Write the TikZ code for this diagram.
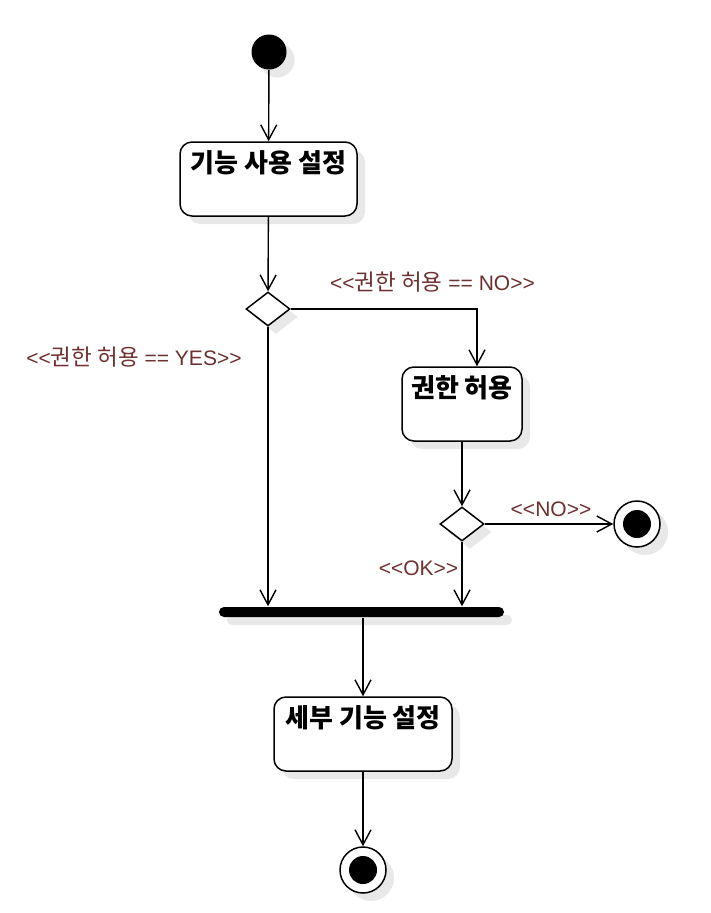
\documentclass[tikz,border=0pt]{standalone}
\usepackage{fontspec}
\setmainfont{Liberation Sans}
\newfontfamily\lat{Liberation Sans}
\newfontfamily\kr{Noto Sans CJK KR}
\usetikzlibrary{arrows.meta,shapes.geometric,shadows}
\definecolor{lblc}{HTML}{6E3030}
\newcommand\hg[1]{{\kr\fontsize{22.5}{25}\selectfont #1}}
\begin{document}
\begin{tikzpicture}[x=1pt,y=-1pt,
  line width=1.4pt,
  >={Straight Barb[length=15pt,width=16pt]},
  shad/.style={drop shadow={shadow xshift=8pt,shadow yshift=-8pt,fill=black!9,opacity=1}},
  act/.style={draw,rounded corners=12pt,fill=white,inner sep=0pt,line width=1.5pt,shad},
  acttext/.style={font=\kr\bfseries\fontsize{26}{30}\selectfont,anchor=center},
  dec/.style={draw,diamond,fill=white,minimum width=44pt,minimum height=34pt,inner sep=0pt,line width=1.5pt,shad},
  startst/.style={circle,fill=black,minimum size=35pt,inner sep=0pt,shad},
  endst/.style={circle,draw,fill=white,minimum size=46pt,inner sep=0pt,line width=1.5pt,shad,
    path picture={\fill[black] (path picture bounding box.center) circle (14pt);}},
  guard/.style={text=lblc,font=\lat\fontsize{21}{24}\selectfont,inner sep=0pt,anchor=center}
]
\useasboundingbox (0,0) rectangle (711,913);

\node[startst] (start) at (269,52) {};
\node[act,minimum width=177pt,minimum height=74pt,
  label={[acttext,yshift=-22pt]north:기능 사용 설정}] (b1) at (268.5,179) {};
\node[dec] (d1) at (268,309) {};
\node[act,minimum width=120pt,minimum height=74pt,
  label={[acttext,yshift=-22pt]north:권한 허용}] (b2) at (462,404) {};
\node[dec] (d2) at (462,524) {};
\node[endst] (end1) at (637,524) {};
\node[fill=black,rounded corners=5pt,minimum width=285pt,minimum height=10pt,inner sep=0pt,shad] (bar) at (361.5,612) {};
\node[act,minimum width=178pt,minimum height=74pt,
  label={[acttext,yshift=-22pt]north:세부 기능 설정}] (b3) at (363,734) {};
\node[endst] (end2) at (363,870) {};

\node[guard] (gno) at (432.5,282) {<{}<\hg{권한 허용} == NO>{}>};
\node[guard] (gyes) at (134,357) {<{}<\hg{권한 허용} == YES>{}>};
\node[guard] (gno2) at (551,509) {<{}<NO>{}>};
\node[guard] (gok) at (418.5,568) {<{}<OK>{}>};

\draw[->] (start) -- (b1);
\draw[->] (b1) -- (d1);
\draw[->] (d1.east) -| ([xshift=15pt]b2.north);
\draw[->] (d1.south) -- (d1.south |- bar.north);
\draw[->] (b2.south -| d2.north) -- (d2.north);
\draw[->] (d2.east) -- (end1);
\draw[->] (d2.south) -- (d2.south |- bar.north);
\draw[->] (b3.north |- bar.south) -- (b3.north);
\draw[->] (b3) -- (end2);
\end{tikzpicture}
\end{document}
